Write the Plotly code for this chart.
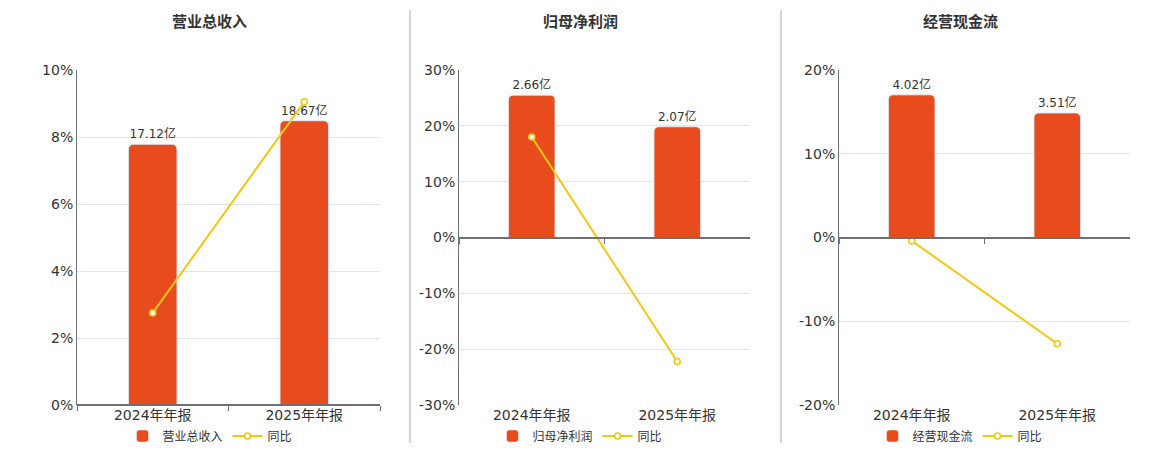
import plotly.graph_objects as go

# 数据
periods = ["2024年年报", "2025年年报"]
titles = ["营业总收入", "归母净利润", "经营现金流"]
amounts = [[17.12, 18.67], [2.66, 2.07], [4.02, 3.51]]   # 亿
yoy = [[2.75, 9.05], [18.0, -22.2], [-0.4, -12.69]]      # %
pct_ticks = [[0, 2, 4, 6, 8, 10], [-30, -20, -10, 0, 10, 20, 30], [-20, -10, 0, 10, 20]]
bar_ranges = [[0, 22], [-3.13, 3.13], [-4.72, 4.72]]

W, H = 1160, 450
OFF = 8  # body margin of the page
BAR = "#e84c1c"
LINE = "#f2c811"
AXIS = "#6e7079"
GRID = "#e0e6f1"
FONT = "DejaVu Sans, Noto Sans CJK SC, sans-serif"


def px_x(v):
    return (v - OFF) / W


def px_y(v):
    return 1 - (v - OFF) / H


plot_x = [(77, 380), (459, 750), (839, 1130)]
centers = [210, 580, 960]
ydom = [px_y(405), px_y(70)]

fig = go.Figure()
layout = {}

for i in range(3):
    n = i + 1
    sfx = "" if n == 1 else str(n)
    xd = [px_x(plot_x[i][0]), px_x(plot_x[i][1])]
    lg = "legend" if n == 1 else "legend" + str(n)
    ya = "y" + sfx           # 柱子（隐藏轴）
    yb = "y" + str(n + 3)    # 同比（显示轴）
    xa = "x" + sfx
    xz = "x" + str(n + 3)    # 零轴（带分界刻度）

    lo, hi = pct_ticks[i][0], pct_ticks[i][-1]
    zero_pos = ydom[0] + (ydom[1] - ydom[0]) * (0 - lo) / (hi - lo)

    # 零轴用的透明柱，只为让零轴画出来
    fig.add_trace(go.Bar(
        x=periods, y=amounts[i], xaxis=xz, yaxis=ya, width=0.32,
        marker=dict(color="rgba(0,0,0,0)"), showlegend=False, hoverinfo="skip",
    ))
    fig.add_trace(go.Bar(
        x=periods, y=amounts[i], name=titles[i], xaxis=xa, yaxis=ya,
        marker=dict(color=BAR, cornerradius=5), width=0.32,
        text=[f"{v:.2f}亿" for v in amounts[i]], textposition="outside",
        textfont=dict(size=12, color="#333"), cliponaxis=False, legend=lg,
    ))
    fig.add_trace(go.Scatter(
        x=periods, y=yoy[i], name="同比", xaxis=xa, yaxis=yb, mode="lines+markers",
        line=dict(color=LINE, width=2),
        marker=dict(symbol="circle", size=6, color="white", line=dict(color=LINE, width=1.6)),
        cliponaxis=False, legend=lg,
    ))

    layout["xaxis" + sfx] = dict(
        domain=xd, anchor=ya, type="category", range=[-0.5, 1.5],
        showline=False, ticks="", showgrid=False, zeroline=False, automargin=False,
        tickfont=dict(size=14, color="#333"),
    )
    layout["xaxis" + str(n + 3)] = dict(
        domain=xd, anchor="free", position=zero_pos, overlaying=xa, type="category",
        range=[-0.5, 1.5], showticklabels=False,
        showline=True, linecolor=AXIS, linewidth=2,
        ticks="outside", tickson="boundaries", ticklen=5, tickcolor=AXIS,
        showgrid=False, zeroline=False, automargin=False,
    )
    layout["yaxis" + sfx] = dict(
        domain=ydom, anchor=xa, range=bar_ranges[i], visible=False, automargin=False,
    )
    layout["yaxis" + str(n + 3)] = dict(
        domain=ydom, anchor=xa, overlaying=ya, side="left", range=[lo, hi],
        tickvals=pct_ticks[i], ticktext=[f"{v}%" for v in pct_ticks[i]],
        showline=True, linecolor=AXIS, linewidth=1,
        showgrid=True, gridcolor=GRID, zeroline=False,
        ticks="", automargin=False,
        tickfont=dict(size=14, color="#333"),
    )
    layout[lg] = dict(
        orientation="h", x=px_x(centers[i]), xanchor="center", y=px_y(436),
        yanchor="middle", font=dict(size=12, color="#333"), bgcolor="rgba(0,0,0,0)",
    )

fig.update_layout(**layout)

fig.update_layout(
    width=W, height=H, margin=dict(l=0, r=0, t=0, b=0, autoexpand=False),
    paper_bgcolor="white", plot_bgcolor="white",
    font=dict(family=FONT, color="#333"),
    barmode="overlay",
    annotations=[
        dict(text="<b>" + t + "</b>", x=px_x(c), y=px_y(22), xref="paper", yref="paper",
             showarrow=False, font=dict(size=15, color="#333"), xanchor="center", yanchor="middle")
        for t, c in zip(titles, centers)
    ],
    shapes=[
        dict(type="line", xref="paper", yref="paper", x0=px_x(sx), x1=px_x(sx),
             y0=px_y(443), y1=px_y(10), line=dict(color="#aaaaaa", width=1))
        for sx in (410, 781)
    ],
)

fig.write_html("out.html")
